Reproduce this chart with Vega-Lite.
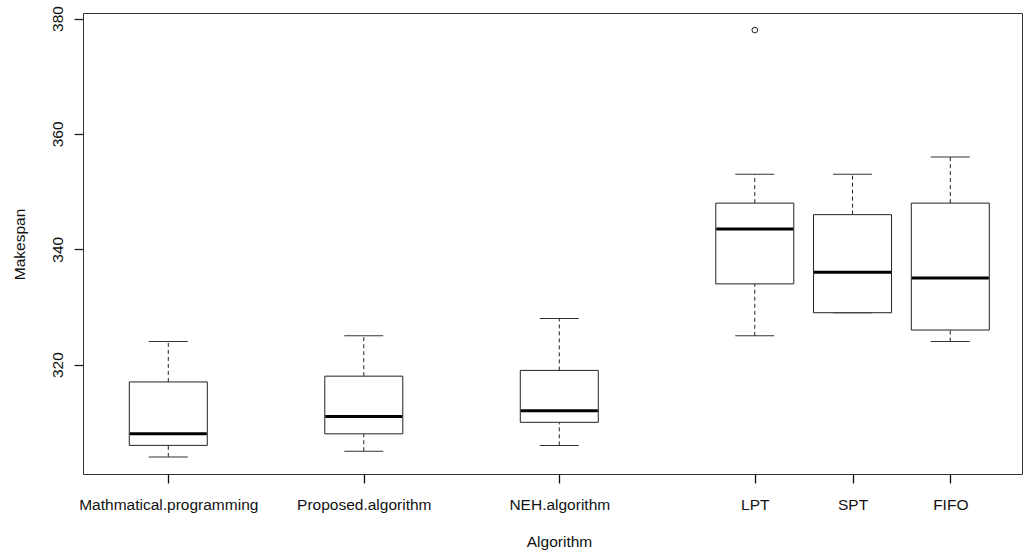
{
  "$schema": "https://vega.github.io/schema/vega-lite/v6.json",
  "autosize": {"type": "none"},
  "width": 939,
  "height": 461,
  "padding": {"left": 83, "top": 13, "right": 3, "bottom": 83},
  "background": "white",
  "config": {
    "view": {"stroke": "#333", "strokeWidth": 1},
    "scale": {"continuousPadding": 0},
    "font": "Liberation Sans",
    "axis": {
      "grid": false,
      "domain": false,
      "ticks": true,
      "tickColor": "#222",
      "tickWidth": 1.3,
      "tickSize": 9,
      "tickOpacity": 1,
      "labelFont": "Liberation Sans",
      "labelFontSize": 15.5,
      "labelColor": "#111",
      "titleFont": "Liberation Sans",
      "titleFontSize": 15.5,
      "titleFontWeight": "normal",
      "titleColor": "#111"
    }
  },
  "datasets": {
    "stats": [
      {"Algorithm": "Mathmatical.programming", "pos": 1, "lower": 304, "q1": 306, "median": 308, "q3": 317, "upper": 324},
      {"Algorithm": "Proposed.algorithm", "pos": 2, "lower": 305, "q1": 308, "median": 311, "q3": 318, "upper": 325},
      {"Algorithm": "NEH.algorithm", "pos": 3, "lower": 306, "q1": 310, "median": 312, "q3": 319, "upper": 328},
      {"Algorithm": "LPT", "pos": 4, "lower": 325, "q1": 334, "median": 343.5, "q3": 348, "upper": 353},
      {"Algorithm": "SPT", "pos": 4.5, "lower": 329, "q1": 329, "median": 336, "q3": 346, "upper": 353},
      {"Algorithm": "FIFO", "pos": 5, "lower": 324, "q1": 326, "median": 335, "q3": 348, "upper": 356}
    ],
    "outliers": [
      {"Algorithm": "LPT", "pos": 4, "Makespan": 378}
    ]
  },
  "layer": [
    {
      "data": {"name": "stats"},
      "mark": {"type": "rule", "color": "#222", "strokeWidth": 1, "strokeDash": [4, 3]},
      "encoding": {
        "x": {
          "field": "pos", "type": "quantitative", "title": "Algorithm",
          "scale": {"domain": [0.5637, 5.3668], "nice": false, "zero": false, "padding": 0},
          "axis": {
            "values": [1, 2, 3, 4, 4.5, 5],
            "labelExpr": "datum.value == 1 ? 'Mathmatical.programming' : datum.value == 2 ? 'Proposed.algorithm' : datum.value == 3 ? 'NEH.algorithm' : datum.value == 4 ? 'LPT' : datum.value == 4.5 ? 'SPT' : 'FIFO'",
            "ticks": true,
            "tickSize": 9,
            "tickWidth": 1.3,
            "tickColor": "#111",
            "tickOpacity": 1,
            "labelPadding": 26,
            "labelBaseline": "alphabetic",
            "labelFlush": false,
            "labelOverlap": false,
            "labelBound": false,
            "titleBaseline": "alphabetic",
            "titleX": 476,
            "titleY": 72,
            "titleAnchor": "middle"
          }
        },
        "y": {
          "field": "q3", "type": "quantitative", "title": "Makespan",
          "scale": {"domain": [301.04, 380.96], "nice": false, "zero": false, "padding": 0},
          "axis": {
            "values": [320, 340, 360, 380],
            "format": "d",
            "labelAngle": -90,
            "labelAlign": "center",
            "labelBaseline": "alphabetic",
            "labelPadding": 12,
            "titleAngle": -90,
            "titleBaseline": "alphabetic",
            "titleAlign": "center",
            "titleX": -59,
            "titleY": 231
          }
        },
        "y2": {"field": "upper"}
      }
    },
    {
      "data": {"name": "stats"},
      "mark": {"type": "rule", "color": "#222", "strokeWidth": 1, "strokeDash": [4, 3]},
      "encoding": {
        "x": {"field": "pos", "type": "quantitative", "title": "Algorithm"},
        "y": {"field": "lower", "type": "quantitative", "title": "Makespan"},
        "y2": {"field": "q1"}
      }
    },
    {
      "data": {"name": "stats"},
      "mark": {"type": "tick", "orient": "horizontal", "size": 39, "thickness": 1, "color": "#333", "opacity": 1},
      "encoding": {
        "x": {"field": "pos", "type": "quantitative", "title": "Algorithm"},
        "y": {"field": "upper", "type": "quantitative", "title": "Makespan"}
      }
    },
    {
      "data": {"name": "stats"},
      "mark": {"type": "tick", "orient": "horizontal", "size": 39, "thickness": 1, "color": "#333", "opacity": 1},
      "encoding": {
        "x": {"field": "pos", "type": "quantitative", "title": "Algorithm"},
        "y": {"field": "lower", "type": "quantitative", "title": "Makespan"}
      }
    },
    {
      "data": {"name": "stats"},
      "mark": {"type": "bar", "size": 78, "fill": "white", "stroke": "#222", "strokeWidth": 1, "opacity": 1},
      "encoding": {
        "x": {"field": "pos", "type": "quantitative", "title": "Algorithm"},
        "y": {"field": "q1", "type": "quantitative", "title": "Makespan"},
        "y2": {"field": "q3"}
      }
    },
    {
      "data": {"name": "stats"},
      "mark": {"type": "tick", "orient": "horizontal", "size": 77, "thickness": 3, "color": "black", "opacity": 1},
      "encoding": {
        "x": {"field": "pos", "type": "quantitative", "title": "Algorithm"},
        "y": {"field": "median", "type": "quantitative", "title": "Makespan"}
      }
    },
    {
      "data": {"name": "outliers"},
      "mark": {"type": "point", "shape": "circle", "filled": false, "size": 32, "stroke": "#222", "strokeWidth": 1, "opacity": 1},
      "encoding": {
        "x": {"field": "pos", "type": "quantitative", "title": "Algorithm"},
        "y": {"field": "Makespan", "type": "quantitative", "title": "Makespan"}
      }
    }
  ]
}
